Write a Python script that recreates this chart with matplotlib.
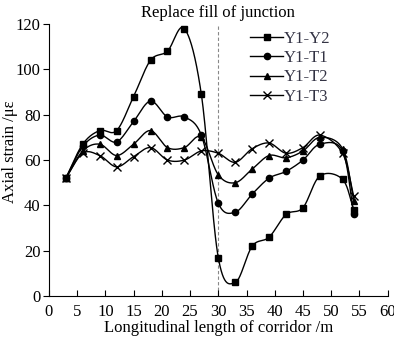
import numpy as np
import matplotlib
matplotlib.use('Agg')
import matplotlib.pyplot as plt

plt.rcParams['font.family'] = ['Liberation Serif', 'DejaVu Serif']
plt.rcParams['mathtext.fontset'] = 'stix'

# -------------------------------------------------
# Data
# -------------------------------------------------
x = [3, 6, 9, 12, 15, 18, 21, 24, 27, 30, 33, 36, 39, 42, 45, 48, 52, 54]
y1_y2 = [52, 67, 73, 73, 88, 104, 108, 118, 89, 17, 6, 22, 26, 36, 39, 53, 51.5, 38]
y1_t1 = [52, 66, 71, 68, 77, 86, 79, 79, 71, 41, 37, 45, 52, 55, 60, 67, 64, 36]
y1_t2 = [52, 64, 67, 62, 67, 73, 65.5, 65.5, 70, 53.5, 50, 56, 62, 61, 64, 70, 65, 42]
y1_t3 = [52, 63, 62, 57, 61.5, 65.5, 60, 60, 64, 63, 59, 65, 67.5, 63, 65.5, 71, 63, 44]

labels = ['Y1-Y2', 'Y1-T1', 'Y1-T2', 'Y1-T3']
markers = ['s', 'o', '^', 'x']
series = [y1_y2, y1_t1, y1_t2, y1_t3]


def smooth(xs, ys, n=30):
    # Catmull-Rom style smoothing (like a spreadsheet "smoothed line")
    xs = np.asarray(xs, float)
    ys = np.asarray(ys, float)
    px = np.concatenate([[2 * xs[0] - xs[1]], xs, [2 * xs[-1] - xs[-2]]])
    py = np.concatenate([[2 * ys[0] - ys[1]], ys, [2 * ys[-1] - ys[-2]]])
    outx, outy = [], []
    t = np.linspace(0, 1, n)
    for i in range(1, len(px) - 2):
        p0x, p1x, p2x, p3x = px[i - 1:i + 3]
        p0y, p1y, p2y, p3y = py[i - 1:i + 3]
        for a, b, c, d, out in ((p0x, p1x, p2x, p3x, outx), (p0y, p1y, p2y, p3y, outy)):
            out.extend(0.5 * ((2 * b) + (-a + c) * t + (2 * a - 5 * b + 4 * c - d) * t**2
                              + (-a + 3 * b - 3 * c + d) * t**3))
    return np.array(outx), np.array(outy)


# -------------------------------------------------
# Plot
# -------------------------------------------------
fig = plt.figure(figsize=(3.94, 3.38), dpi=100)
ax = fig.add_axes([0.124, 0.124, 0.860, 0.805])

ax.axvline(30, color='#888888', ls=(0, (3, 2)), lw=0.8, zorder=1)

for ys, lab, m in zip(series, labels, markers):
    sx, sy = smooth(x, ys)
    ax.plot(sx, sy, color='black', lw=1.0, zorder=2)
    ms = 5.5 if m == 'x' else 4.5
    ax.plot(x, ys, ls='none', marker=m, color='black', ms=ms, mew=1.0, zorder=3)
    ax.plot([], [], color='black', lw=1.0, marker=m, ms=ms, mew=1.0, label=lab)

ax.set_xlim(0, 60)
ax.set_ylim(0, 120)
ax.set_xticks(np.arange(0, 61, 5))
ax.set_yticks(np.arange(0, 121, 20))
ax.spines['top'].set_visible(False)
ax.spines['right'].set_visible(False)
ax.tick_params(axis='x', direction='in', length=4, labelsize=12, pad=6)
ax.tick_params(axis='y', direction='out', length=4, labelsize=12, pad=2)

ax.set_xlabel('Longitudinal length of corridor /m', fontsize=12)
ax.xaxis.set_label_coords(0.5, -0.088)
ax.set_ylabel('Axial strain /με', fontsize=12)
ax.yaxis.set_label_coords(-0.092, 0.53)

ax.text(30, 121.5, 'Replace fill of junction', ha='center', va='bottom', fontsize=12)

leg = ax.legend(loc='upper left', bbox_to_anchor=(0.594, 0.975), frameon=False,
                fontsize=12, handlelength=2.0, handletextpad=0.0,
                labelspacing=0.2, borderaxespad=0.0, borderpad=0.0)
for t in leg.get_texts():
    t.set_color('#333344')

fig.savefig('out.png', dpi=100)
